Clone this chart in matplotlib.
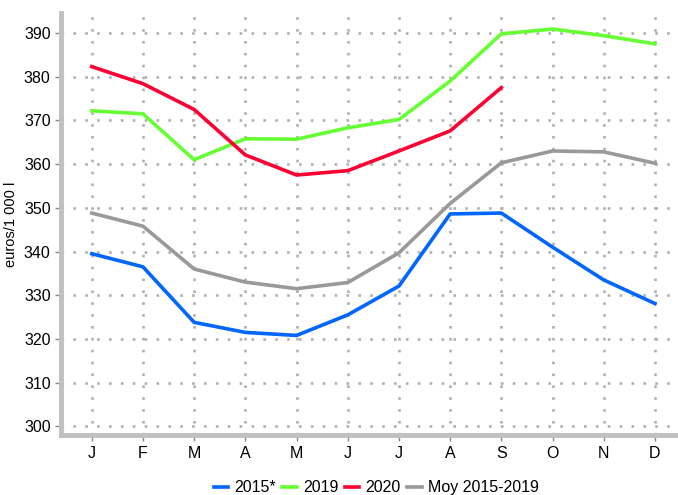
import numpy as np
import matplotlib.pyplot as plt

plt.rcParams['font.family'] = ['Liberation Sans', 'DejaVu Sans']

months = ['J', 'F', 'M', 'A', 'M', 'J', 'J', 'A', 'S', 'O', 'N', 'D']
s2015 = [339.5, 336.5, 323.8, 321.5, 320.8, 325.5, 332.1, 348.6, 348.8, 341.0, 333.5, 328.1]
s2019 = [372.2, 371.5, 361.0, 365.8, 365.7, 368.3, 370.2, 379.0, 389.8, 390.9, 389.4, 387.5]
s2020 = [382.3, 378.4, 372.5, 362.1, 357.5, 358.5, 363.0, 367.6, 377.5]
avg = [348.8, 345.8, 336.0, 333.0, 331.5, 332.9, 339.7, 351.0, 360.3, 363.0, 362.8, 360.2]

fig = plt.figure(figsize=(6.78, 4.95), dpi=100)
ax = fig.add_axes([0.09, 0.121, 0.91, 0.853])

x = np.arange(12)
ax.plot(x, s2015, color='#0066ff', lw=2.6, label='2015*')
ax.plot(x, s2019, color='#66ff33', lw=2.6, label='2019')
ax.plot(np.arange(len(s2020)), s2020, color='#ff0033', lw=2.6, label='2020')
ax.plot(x, avg, color='#999999', lw=2.6, label='Moy 2015-2019')

ax.set_xlim(-0.6, 11.45)
ax.set_ylim(298, 394.6)
ax.set_xticks(x)
ax.set_xticklabels(months)
ax.set_yticks(np.arange(300, 391, 10))
ax.grid(True, color='#b0b0b0', linestyle=(0, (1, 3.5)), lw=1.9)
ax.set_axisbelow(True)

for s in ['top', 'right']:
    ax.spines[s].set_visible(False)
for s in ['left', 'bottom']:
    ax.spines[s].set_color('#c0c0c0')
    ax.spines[s].set_linewidth(3.5)
ax.tick_params(colors='#888888', labelcolor='black', labelsize=11.5, length=4, width=1)
ax.set_ylabel('euros/1 000 l', fontsize=10.5)

fig.legend(loc='lower center', ncol=4, frameon=False, fontsize=11.5,
           bbox_to_anchor=(0.555, -0.03), handlelength=0.9, handletextpad=0.4,
           columnspacing=0.4)

fig.savefig('out.png', dpi=100)
